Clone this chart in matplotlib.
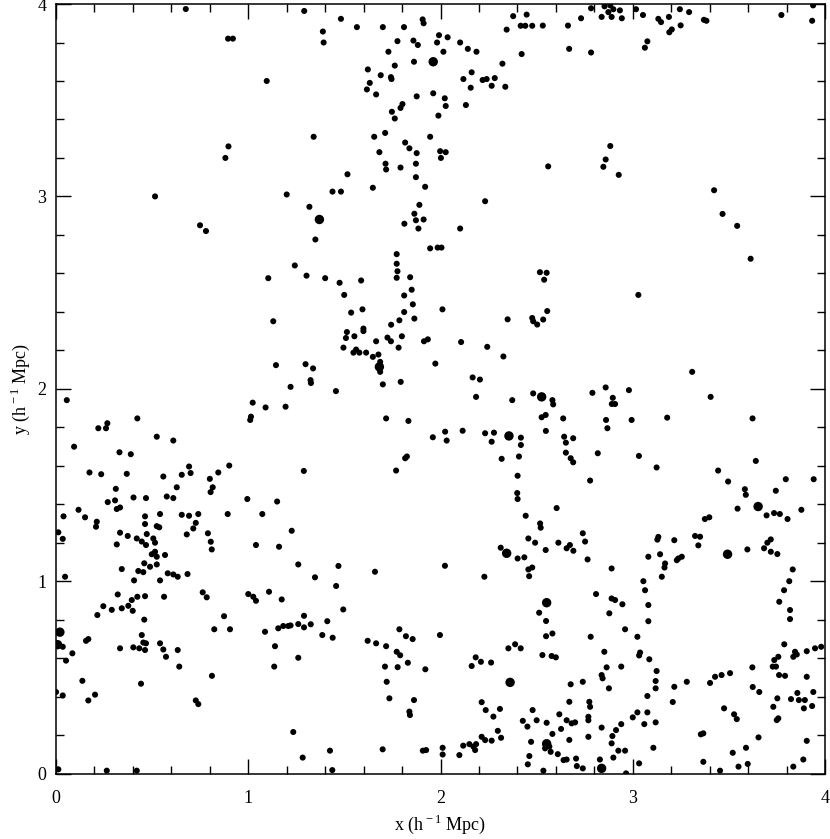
import matplotlib
matplotlib.use('Agg')
import matplotlib.pyplot as plt
from matplotlib.ticker import MultipleLocator

plt.rcParams['font.family'] = ['Liberation Serif', 'DejaVu Serif']
plt.rcParams['mathtext.fontset'] = 'custom'
plt.rcParams['mathtext.rm'] = 'Liberation Serif'

# halo positions (h^-1 Mpc), upper band y > 2.65
halos_top = [
    (0.675, 3.974), (1.291, 3.964), (0.895, 3.82), (0.92, 3.82), (1.096, 3.60), (1.34, 3.31),
    (0.897, 3.26), (0.881, 3.20), (0.515, 3.0), (1.20, 3.01), (1.318, 2.946), (1.349, 2.776),
    (0.749, 2.85), (0.78, 2.82),
    (1.482, 3.923), (1.388, 3.857), (1.392, 3.80), (1.565, 3.88), (1.70, 3.88), (1.81, 3.88),
    (1.907, 3.92), (1.912, 3.90), (1.776, 3.807), (1.859, 3.81), (1.882, 3.787), (1.992, 3.838),
    (2.037, 3.827), (1.982, 3.80), (2.102, 3.80), (2.142, 3.767), (2.187, 3.752), (2.015, 3.752),
    (1.729, 3.752), (1.862, 3.70), (1.762, 3.68), (1.622, 3.66), (1.689, 3.63), (1.742, 3.62),
    (1.745, 3.61), (1.632, 3.59), (1.617, 3.556), (1.665, 3.53), (1.876, 3.52), (1.962, 3.536),
    (2.022, 3.51), (2.027, 3.47), (1.802, 3.48), (1.792, 3.46), (1.747, 3.44), (1.762, 3.405),
    (1.989, 3.42), (2.132, 3.475), (2.119, 3.61), (2.162, 3.645), (2.157, 3.565), (2.219, 3.605),
    (2.24, 3.61), (2.266, 3.575), (2.282, 3.615), (2.337, 3.57), (2.322, 3.69), (2.422, 3.74),
    (2.378, 3.937), (2.448, 3.945), (2.344, 3.867), (2.417, 3.887), (2.441, 3.887), (2.477, 3.887),
    (2.532, 3.888), (2.663, 3.888), (2.669, 3.767),
    (1.655, 3.31), (1.712, 3.33), (1.946, 3.31), (1.816, 3.28), (1.838, 3.25), (1.876, 3.225),
    (1.682, 3.23), (1.998, 3.235), (2.027, 3.23), (2.002, 3.20), (1.714, 3.17), (1.717, 3.14),
    (1.792, 3.15), (1.872, 3.17), (2.56, 3.156), (1.516, 3.115), (1.872, 3.10), (1.92, 3.05),
    (1.648, 3.045), (1.438, 3.025), (1.482, 3.025), (1.89, 2.956), (1.864, 2.91), (1.872, 2.876),
    (1.912, 2.88), (1.812, 2.858), (1.885, 2.833), (2.102, 2.833), (2.232, 2.975), (1.946, 2.73),
    (1.985, 2.734), (2.005, 2.734), (1.772, 2.70),
    (2.731, 3.926), (2.783, 3.978), (2.783, 3.748), (2.853, 3.988), (2.883, 3.993), (2.899, 3.973),
    (2.838, 3.933), (2.89, 3.933), (2.933, 3.967), (2.943, 3.926), (2.873, 3.958), (3.017, 3.973),
    (3.053, 3.943), (3.133, 3.923), (3.147, 3.906), (3.188, 3.933), (3.245, 3.973), (3.293, 3.958),
    (3.249, 3.889), (3.203, 3.868), (3.19, 3.853), (3.076, 3.806), (3.063, 3.773), (3.37, 3.918),
    (3.383, 3.913), (3.773, 3.943), (3.938, 3.993), (3.933, 3.913), (2.883, 3.262), (2.859, 3.192),
    (2.847, 3.154), (2.927, 3.112), (3.423, 3.032), (3.467, 2.909), (3.543, 2.847), (3.613, 2.676),
]

# middle band, 1.32 < y < 2.65
halos_mid = [
    (1.242, 2.641), (1.303, 2.588), (1.104, 2.575), (1.13, 2.351), (1.144, 2.123), (1.298, 2.128),
    (1.337, 2.106), (1.324, 2.045), (1.326, 2.03), (1.22, 2.01), (1.023, 1.928), (1.014, 1.855),
    (1.01, 1.838), (1.09, 1.903), (1.194, 1.907), (0.056, 1.941), (0.423, 1.846), (0.22, 1.795),
    (0.26, 1.795), (0.267, 1.821), (0.094, 1.699), (0.524, 1.751), (0.61, 1.731), (0.33, 1.67),
    (0.389, 1.66), (0.174, 1.565), (0.235, 1.556), (0.368, 1.558), (0.558, 1.544), (0.654, 1.553),
    (0.70, 1.562), (0.692, 1.596), (0.901, 1.601), (0.844, 1.565), (0.80, 1.532), (0.815, 1.488),
    (0.804, 1.463), (0.628, 1.488), (0.311, 1.48), (0.403, 1.435), (0.468, 1.432), (0.576, 1.44),
    (0.61, 1.432), (0.995, 1.427), (1.15, 1.414), (1.289, 1.573), (0.269, 1.411), (0.307, 1.42),
    (0.316, 1.375), (0.333, 1.383), (0.117, 1.371), (0.039, 1.337), (0.151, 1.332), (0.463, 1.337),
    (0.541, 1.349), (0.654, 1.345), (0.692, 1.34), (0.74, 1.349), (0.893, 1.349), (1.073, 1.349),
    (1.772, 2.65), (1.776, 2.611), (1.772, 2.577), (1.842, 2.58), (1.40, 2.575), (1.475, 2.551),
    (1.587, 2.563), (1.85, 2.515), (1.499, 2.488), (1.811, 2.485), (1.856, 2.439), (1.535, 2.396),
    (1.594, 2.413), (1.811, 2.399), (1.864, 2.365), (1.786, 2.356), (2.01, 2.413), (1.743, 2.333),
    (1.599, 2.313), (1.599, 2.30), (1.513, 2.295), (1.508, 2.264), (1.552, 2.273), (1.665, 2.247),
    (1.724, 2.266), (1.742, 2.247), (1.799, 2.273), (1.782, 2.214), (1.914, 2.247), (1.934, 2.257),
    (2.107, 2.243), (2.243, 2.218), (2.327, 2.168), (1.495, 2.214), (1.561, 2.204), (1.547, 2.188),
    (1.578, 2.188), (1.613, 2.188), (1.648, 2.166), (1.677, 2.178), (1.686, 2.14), (1.686, 2.088),
    (1.456, 1.988), (1.70, 2.023), (1.793, 2.036), (1.973, 2.131), (2.167, 2.059), (2.205, 2.048),
    (2.185, 1.958), (2.349, 2.361), (2.477, 2.368), (2.482, 2.351), (2.503, 2.334), (2.534, 2.36),
    (2.555, 2.404), (2.517, 2.606), (2.552, 2.603), (2.539, 2.567), (2.373, 1.941), (2.482, 1.976),
    (2.582, 1.941), (2.586, 1.919), (2.547, 1.864), (2.526, 1.852), (2.638, 1.846), (2.548, 1.781),
    (1.717, 1.846), (1.833, 1.833), (1.96, 1.748), (2.024, 1.777), (2.032, 1.731), (2.115, 1.782),
    (2.232, 1.769), (2.278, 1.772), (2.266, 1.725), (2.418, 1.746), (2.418, 1.708), (2.408, 1.648),
    (2.318, 1.636), (2.401, 1.548), (2.399, 1.458), (2.401, 1.427), (2.604, 1.38), (2.443, 1.34),
    (2.643, 1.751), (2.652, 1.72), (2.69, 1.743), (2.652, 1.668), (2.677, 1.639), (2.69, 1.618),
    (1.816, 1.639), (1.825, 1.648), (1.769, 1.575),
    (3.029, 2.488), (3.309, 2.088), (2.859, 2.007), (2.79, 1.979), (2.98, 1.993), (2.896, 1.953),
    (2.891, 1.921), (2.908, 1.921), (3.405, 1.958), (2.861, 1.838), (2.868, 1.795), (2.994, 1.838),
    (3.179, 1.85), (3.623, 1.846), (2.818, 1.665), (3.032, 1.651), (3.124, 1.591), (2.778, 1.523),
    (3.444, 1.575), (3.496, 1.518), (3.64, 1.625), (3.583, 1.478), (3.588, 1.449), (3.744, 1.47),
    (3.796, 1.53), (3.941, 1.53), (3.545, 1.377), (3.696, 1.342), (3.735, 1.354), (3.765, 1.349),
    (3.805, 1.323), (3.877, 1.371), (3.375, 1.323), (3.398, 1.332),
]

# lower band, y < 1.32
halos_low = [
    (0.212, 1.309), (0.208, 1.283), (0.012, 1.254), (0.035, 1.22), (0.047, 1.023), (0.333, 1.252),
    (0.373, 1.235), (0.316, 1.191), (0.463, 1.297), (0.524, 1.286), (0.537, 1.28), (0.42, 1.222),
    (0.446, 1.206), (0.472, 1.245), (0.506, 1.222), (0.515, 1.20), (0.468, 1.188), (0.515, 1.153),
    (0.498, 1.14), (0.524, 1.127), (0.567, 1.136), (0.459, 1.093), (0.489, 1.075), (0.524, 1.087),
    (0.342, 1.063), (0.428, 1.053), (0.454, 1.047), (0.406, 1.004), (0.541, 1.004), (0.581, 1.041),
    (0.61, 1.035), (0.633, 1.023), (0.684, 1.037), (0.68, 1.243), (0.714, 1.274), (0.727, 1.303),
    (0.79, 1.249), (0.805, 1.205), (0.81, 1.165), (1.04, 1.188), (1.16, 1.179), (1.226, 1.262),
    (1.26, 1.087), (1.347, 1.02), (0.321, 0.931), (0.394, 0.902), (0.423, 0.919), (0.463, 0.922),
    (0.562, 0.919), (0.246, 0.87), (0.29, 0.851), (0.342, 0.859), (0.376, 0.872), (0.399, 0.846),
    (0.215, 0.824), (0.459, 0.80), (0.763, 0.942), (0.784, 0.916), (1.0, 0.933), (1.026, 0.919),
    (1.04, 0.898), (1.108, 0.945), (1.174, 0.905), (0.874, 0.818), (0.823, 0.75), (0.905, 0.75),
    (1.087, 0.737), (1.156, 0.755), (1.182, 0.767), (1.208, 0.767), (1.22, 0.77), (1.26, 0.777),
    (1.29, 0.76), (1.29, 0.82), (1.325, 0.776), (0.035, 0.659), (0.085, 0.625), (0.052, 0.587),
    (0.156, 0.69), (0.168, 0.699), (0.333, 0.651), (0.402, 0.656), (0.433, 0.651), (0.446, 0.72),
    (0.454, 0.681), (0.463, 0.642), (0.468, 0.677), (0.541, 0.677), (0.558, 0.645), (0.572, 0.607),
    (0.633, 0.642), (0.641, 0.556), (0.811, 0.508), (1.139, 0.662), (1.135, 0.556), (1.26, 0.602),
    (0.137, 0.482), (0.442, 0.467), (0.0, 0.424), (0.035, 0.406), (0.203, 0.41), (0.168, 0.38),
    (0.727, 0.38), (0.74, 0.361), (1.234, 0.216), (1.283, 0.083), (0.012, 0.022), (0.264, 0.015),
    (0.42, 0.015),
    (2.518, 1.30), (2.521, 1.278), (1.469, 1.079), (1.659, 1.049), (2.023, 1.08), (2.228, 1.023),
    (1.457, 0.975), (1.494, 0.853), (1.411, 0.792), (1.385, 0.72), (1.439, 0.706), (1.621, 0.69),
    (1.665, 0.677), (1.717, 0.662), (1.786, 0.75), (1.82, 0.714), (1.855, 0.699), (1.772, 0.633),
    (1.79, 0.615), (1.83, 0.576), (1.711, 0.556), (1.777, 0.553), (1.921, 0.542), (1.997, 0.72),
    (1.72, 0.477), (1.734, 0.391), (1.862, 0.382), (1.838, 0.322), (1.841, 0.304), (1.425, 0.119),
    (1.699, 0.126), (1.908, 0.119), (1.925, 0.122), (2.011, 0.134), (2.011, 0.099), (1.437, 0.018),
    (2.098, 0.096), (2.118, 0.145), (2.15, 0.153), (2.171, 0.14), (2.185, 0.153), (2.18, 0.122),
    (2.214, 0.191), (2.232, 0.174), (2.266, 0.171), (2.298, 0.222), (2.315, 0.186), (2.214, 0.371),
    (2.235, 0.33), (2.275, 0.296), (2.309, 0.336), (2.183, 0.604), (2.21, 0.581), (2.162, 0.559),
    (2.263, 0.577), (2.353, 0.651), (2.388, 0.672), (2.417, 0.651), (2.53, 0.616), (2.578, 0.611),
    (2.6, 0.604), (2.549, 0.714), (2.582, 0.728), (2.513, 0.836), (2.549, 0.793), (2.313, 1.174),
    (2.401, 1.118), (2.436, 1.124), (2.457, 1.061), (2.477, 1.071), (2.461, 1.026), (2.457, 1.222),
    (2.492, 1.20), (2.547, 1.162), (2.613, 1.20), (2.656, 1.171), (2.673, 1.188), (2.691, 1.158),
    (2.677, 0.464), (2.670, 0.373), (2.479, 0.330), (2.5, 0.277), (2.428, 0.274), (2.452, 0.244),
    (2.552, 0.264), (2.618, 0.308), (2.627, 0.232), (2.582, 0.206), (2.656, 0.277), (2.682, 0.261),
    (2.7, 0.266), (2.670, 0.175), (2.471, 0.165), (2.566, 0.14), (2.544, 0.131), (2.573, 0.113),
    (2.462, 0.091), (2.454, 0.048), (2.535, 0.015), (2.61, 0.101), (2.64, 0.07), (2.656, 0.073),
    (2.705, 0.078), (2.709, 0.039),
    (2.74, 1.249), (2.752, 1.206), (2.765, 1.113), (2.89, 1.066), (2.809, 0.933), (2.89, 0.91),
    (2.908, 0.902), (2.946, 0.88), (2.878, 0.833), (2.96, 0.75), (2.781, 0.711), (2.852, 0.633),
    (2.864, 0.552), (2.838, 0.512), (2.843, 0.495), (2.94, 0.556), (2.876, 0.443), (2.74, 0.477),
    (2.774, 0.373), (2.778, 0.347), (2.769, 0.295), (2.769, 0.277), (2.769, 0.191), (2.838, 0.239),
    (2.94, 0.257), (2.913, 0.226), (2.894, 0.195), (2.89, 0.157), (2.899, 0.083), (2.925, 0.119),
    (2.96, 0.119), (2.74, 0.027), (2.829, 0.073), (2.965, 0.001), (3.033, 0.053), (3.0, 0.292),
    (3.024, 0.318), (3.076, 0.318), (3.06, 0.257), (3.119, 0.266), (3.107, 0.134), (3.076, 0.403),
    (3.119, 0.481), (3.124, 0.533), (3.119, 0.443), (3.216, 0.451), (3.208, 0.372), (3.281, 0.477),
    (3.024, 0.711), (3.038, 0.629), (3.033, 0.614), (3.086, 0.594), (3.081, 0.792), (3.081, 0.876),
    (3.064, 0.953), (3.055, 1.0), (3.151, 1.023), (3.168, 1.092), (3.165, 1.071), (3.142, 1.14),
    (3.128, 1.216), (3.133, 1.23), (3.081, 1.127), (3.216, 1.213), (3.237, 1.118), (3.255, 1.127),
    (3.229, 1.109), (3.324, 1.235), (3.35, 1.231), (3.341, 1.186), (3.596, 1.165), (3.683, 1.171),
    (3.7, 1.2), (3.718, 1.217), (3.718, 1.153), (3.752, 1.141), (3.832, 1.061), (3.814, 1.0),
    (3.787, 0.953), (3.762, 0.893), (3.818, 0.85), (3.818, 0.803), (3.788, 0.672), (3.757, 0.607),
    (3.736, 0.59), (3.728, 0.556), (3.745, 0.556), (3.844, 0.633), (3.835, 0.607), (3.853, 0.619),
    (3.905, 0.636), (3.948, 0.651), (3.98, 0.659), (3.622, 0.552), (3.761, 0.512), (3.792, 0.508),
    (3.905, 0.503), (3.402, 0.471), (3.428, 0.503), (3.462, 0.512), (3.506, 0.522), (3.624, 0.45),
    (3.658, 0.424), (3.752, 0.391), (3.823, 0.387), (3.856, 0.419), (3.939, 0.424), (3.864, 0.382),
    (3.895, 0.382), (3.89, 0.339), (3.933, 0.351), (3.731, 0.347), (3.757, 0.287), (3.749, 0.278),
    (3.475, 0.339), (3.527, 0.308), (3.541, 0.283), (3.354, 0.204), (3.367, 0.209), (3.654, 0.188),
    (3.905, 0.17), (3.589, 0.134), (3.52, 0.108), (3.367, 0.061), (3.454, 0.015), (3.55, 0.036),
    (3.598, 0.05), (3.835, 0.036), (3.887, 0.073),
]

# the few larger haloes
halos_big = [
    (1.37, 2.88), (1.962, 3.70), (1.682, 2.114), (2.526, 1.958), (2.356, 1.755), (3.652, 1.388),
    (0.008, 0.67), (0.02, 0.735), (2.362, 0.474), (2.552, 0.888), (2.552, 0.155), (2.344, 1.145),
    (3.493, 1.14), (2.838, 0.027),
]

small = halos_top + halos_mid + halos_low
sx = [p[0] for p in small]
sy = [p[1] for p in small]
bx = [p[0] for p in halos_big]
by = [p[1] for p in halos_big]

fig = plt.figure(figsize=(8.3, 8.39), dpi=100)
ax = fig.add_axes([0.0675, 0.078, 0.9265, 0.9172])

ax.scatter(sx, sy, s=19, marker='o', color='black', edgecolors='none')
ax.scatter(bx, by, s=46, marker='o', color='black', edgecolors='none')

ax.set_xlim(0, 4)
ax.set_ylim(0, 4)
ax.xaxis.set_major_locator(MultipleLocator(1))
ax.yaxis.set_major_locator(MultipleLocator(1))
ax.xaxis.set_minor_locator(MultipleLocator(0.2))
ax.yaxis.set_minor_locator(MultipleLocator(0.2))
ax.tick_params(which='both', direction='in', top=True, right=True, width=1.0, colors='black')
ax.tick_params(which='major', length=11)
ax.tick_params(which='minor', length=5.5)
ax.tick_params(axis='x', which='major', pad=12, labelsize=13)
ax.tick_params(axis='y', which='major', pad=7, labelsize=13)
for sp in ax.spines.values():
    sp.set_linewidth(1.1)

ax.set_xlabel(r'x (h$^{\rm -1}$ Mpc)', fontsize=13, labelpad=4)
ax.set_ylabel(r'y (h$^{\rm -1}$ Mpc)', fontsize=13, labelpad=4)

fig.savefig('out.png', dpi=100)
